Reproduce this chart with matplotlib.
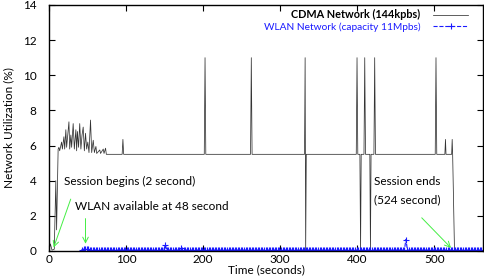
import numpy as np
import matplotlib
matplotlib.use("Agg")
import matplotlib.pyplot as plt

plt.rcParams['font.family'] = ['Lato', 'DejaVu Sans']

# CDMA utilisation (%) over time (s)
cdma_t = [0, 2, 4, 7, 9, 10, 12, 13, 14, 16.5, 17.5, 19.5, 20.5, 22, 23, 26, 27,
          28.5, 29.5, 31.5, 33, 35, 36, 37, 38.5, 40, 41.5, 43, 44.5, 46, 47.5,
          49, 50.5, 52, 54, 55.5, 57.5, 59, 61, 62, 66, 67, 70.5, 71.5, 73.5,
          74.5, 95, 96, 97,
          201.5, 202.5, 203.5, 261.5, 262.5, 263.5,
          331.5, 332.3, 333.0, 333.8,
          398.6, 399.6, 400.6, 403.3, 404.2, 405.0,
          408.6, 409.6, 410.6, 416.2, 417.0, 417.8,
          421.5, 422.5, 423.5, 501, 502, 503,
          513.5, 514.3, 515, 522.3, 523, 523.6, 526, 563]
cdma_v = [0, 0.4, 0.05, 0.1, 4.0, 1.2, 5.8, 5.9, 5.7, 6.2, 5.8, 6.5, 5.8, 6.9, 5.9, 7.35, 5.8,
          6.6, 5.9, 7.25, 5.8, 6.9, 5.7, 6.8, 5.9, 7.25, 5.8, 6.6, 7.05, 5.7, 6.7,
          5.8, 6.2, 5.6, 7.45, 5.6, 6.3, 5.6, 5.95, 5.55, 5.75, 5.55, 5.8, 5.55, 5.85,
          5.5, 5.5, 6.35, 5.5,
          5.5, 11.0, 5.5, 5.5, 11.0, 5.5,
          5.5, 11.0, 0.0, 5.5,
          5.5, 11.0, 5.5, 5.5, 0.0, 5.5,
          5.5, 11.0, 5.5, 5.5, 0.0, 5.5,
          5.5, 11.0, 5.5, 5.5, 11.0, 5.5,
          5.5, 6.35, 5.5, 5.5, 6.35, 5.5, 0.0, 0.0]

# WLAN utilisation: sampled every 2 s from 43 s, near zero with a few blips
wlan_t = np.arange(43, 564, 2)
wlan_v = np.full(len(wlan_t), 0.05)
wlan_blips = {45: 0.1, 47: 0.1, 49: 0.1, 51: 0.1, 151: 0.35, 171: 0.15, 463: 0.65}
for t, v in wlan_blips.items():
    wlan_v[wlan_t == t] = v

FS = 8.5
LFS = 7.3
fig = plt.figure(figsize=(4.84, 2.77), dpi=100)
ax = fig.add_axes([0.101, 0.094, 0.897, 0.888])

ax.plot(cdma_t, cdma_v, color='#333333', lw=0.55, label='CDMA Network (144kpbs)')
ax.plot(wlan_t, wlan_v, color='#1a1aff', lw=0.8, ls='--', marker='+', ms=4.5,
        mew=0.8, label='WLAN Network (capacity 11Mpbs)')

ax.set_xlim(0, 563)
ax.set_ylim(0, 14)
ax.set_xticks(range(0, 501, 100))
ax.set_yticks(range(0, 15, 2))
ax.tick_params(direction='in', length=4, width=0.8, top=True, right=True,
               labelsize=FS)
ax.tick_params(axis='y', pad=9)
ax.tick_params(axis='x', pad=2.5)
for s in ax.spines.values():
    s.set_linewidth(1.0)
ax.set_xlabel('Time (seconds)', fontsize=FS, labelpad=-1)
ax.set_ylabel('Network Utilization (%)', fontsize=FS, labelpad=6)

arrow = dict(arrowstyle='->', color='#44ee44', lw=0.7)
ax.annotate('', xy=(5, 0.05), xytext=(29.5, 3.1), arrowprops=arrow)
ax.text(20, 3.95, 'Session begins (2 second)', fontsize=FS, va='center')
ax.annotate('', xy=(47.5, 0.25), xytext=(47.5, 2.0), arrowprops=arrow)
ax.text(34, 2.52, 'WLAN available at 48 second', fontsize=FS, va='center')
ax.annotate('', xy=(524, 0.06), xytext=(481, 2.0), arrowprops=arrow)
ax.text(422, 3.95, 'Session ends', fontsize=FS, va='center')
ax.text(422, 2.94, '(524 second)', fontsize=FS, va='center')

leg = ax.legend(loc='upper right', bbox_to_anchor=(0.966, 0.982), frameon=False,
                markerfirst=False, fontsize=LFS, labelcolor=['black', '#1a1aff'],
                handlelength=3.5, borderaxespad=0, borderpad=0, labelspacing=0.2,
                handletextpad=1.2)
leg.get_texts()[0].set_fontweight('bold')
leg.get_texts()[0].set_fontsize(7.8)

fig.savefig('out.png', dpi=100)
